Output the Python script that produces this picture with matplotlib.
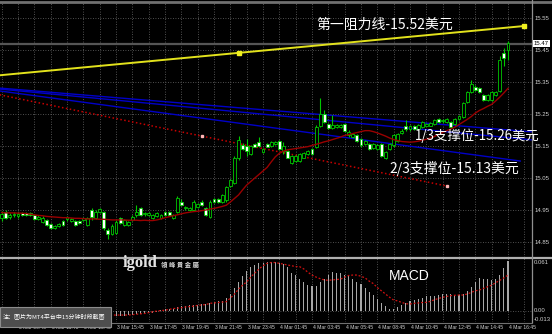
import matplotlib

matplotlib.use("Agg")
import matplotlib.pyplot as plt
from matplotlib.lines import Line2D
from matplotlib.patches import Rectangle
import numpy as np

plt.rcParams["font.family"] = ["Noto Sans CJK SC", "DejaVu Sans"]

# XAG/USD 15-minute candles, 3 Mar 08:45 -> 4 Mar 16:45
opens = [14.925, 14.944, 14.928, 14.934, 14.931, 14.941, 14.941, 14.941, 14.934, 14.923,
         14.913, 14.919, 14.906, 14.895, 14.900, 14.916, 14.922, 14.916, 14.916, 14.916,
         14.919, 14.903, 14.950, 14.925, 14.944, 14.944, 14.888, 14.875, 14.878, 14.925,
         14.903, 14.903, 14.919, 14.934, 14.956, 14.938, 14.934, 14.925, 14.931, 14.925,
         14.944, 14.944, 14.925, 14.944, 14.975, 14.956, 14.950, 14.950, 14.959, 14.975,
         14.956, 14.928, 14.984, 14.984, 14.975, 14.981, 15.025, 15.034, 15.113, 15.153,
         15.150, 15.125, 15.156, 15.161, 15.131, 15.156, 15.150, 15.156, 15.166, 15.134,
         15.134, 15.098, 15.103, 15.103, 15.114, 15.125, 15.141, 15.147, 15.213, 15.250,
         15.219, 15.206, 15.208, 15.209, 15.219, 15.183, 15.178, 15.183, 15.172, 15.156,
         15.156, 15.145, 15.141, 15.156, 15.111, 15.141, 15.152, 15.167, 15.192, 15.214,
         15.202, 15.214, 15.203, 15.209, 15.214, 15.214, 15.219, 15.234, 15.227, 15.225,
         15.225, 15.219, 15.234, 15.241, 15.288, 15.319, 15.334, 15.330, 15.309, 15.294,
         15.294, 15.309, 15.322, 15.441, 15.450]
highs = [14.947, 14.950, 14.941, 14.944, 14.944, 14.944, 14.944, 14.944, 14.938, 14.934,
         14.931, 14.922, 14.909, 14.903, 14.909, 14.919, 14.931, 14.925, 14.919, 14.919,
         14.928, 14.928, 14.956, 14.950, 14.956, 14.947, 14.894, 14.906, 14.919, 14.928,
         14.922, 14.916, 14.934, 14.966, 14.959, 14.944, 14.944, 14.938, 14.944, 14.938,
         14.947, 14.947, 14.938, 14.994, 14.984, 14.963, 14.959, 14.981, 14.972, 14.981,
         14.959, 14.981, 14.988, 14.988, 15.000, 15.025, 15.047, 15.119, 15.181, 15.159,
         15.172, 15.153, 15.159, 15.178, 15.144, 15.159, 15.166, 15.166, 15.169, 15.163,
         15.138, 15.122, 15.122, 15.128, 15.131, 15.138, 15.144, 15.216, 15.300, 15.263,
         15.222, 15.247, 15.219, 15.219, 15.222, 15.200, 15.191, 15.186, 15.175, 15.170,
         15.159, 15.159, 15.156, 15.159, 15.134, 15.159, 15.186, 15.191, 15.202, 15.231,
         15.217, 15.217, 15.219, 15.228, 15.222, 15.225, 15.233, 15.238, 15.233, 15.238,
         15.228, 15.238, 15.248, 15.286, 15.322, 15.356, 15.341, 15.333, 15.313, 15.313,
         15.322, 15.322, 15.431, 15.456, 15.478]
lows = [14.916, 14.922, 14.922, 14.928, 14.925, 14.931, 14.931, 14.931, 14.919, 14.919,
        14.909, 14.900, 14.891, 14.891, 14.897, 14.900, 14.916, 14.913, 14.900, 14.906,
        14.916, 14.900, 14.919, 14.922, 14.941, 14.888, 14.859, 14.872, 14.875, 14.906,
        14.900, 14.900, 14.916, 14.928, 14.931, 14.931, 14.931, 14.922, 14.928, 14.922,
        14.931, 14.931, 14.922, 14.941, 14.963, 14.950, 14.947, 14.947, 14.956, 14.963,
        14.931, 14.925, 14.972, 14.972, 14.972, 14.975, 15.022, 15.031, 15.106, 15.138,
        15.119, 15.122, 15.147, 15.147, 15.128, 15.147, 15.147, 15.153, 15.138, 15.125,
        15.111, 15.095, 15.100, 15.100, 15.111, 15.122, 15.122, 15.144, 15.209, 15.222,
        15.203, 15.203, 15.205, 15.206, 15.195, 15.178, 15.175, 15.164, 15.148, 15.153,
        15.138, 15.142, 15.138, 15.116, 15.108, 15.138, 15.148, 15.164, 15.189, 15.198,
        15.198, 15.200, 15.200, 15.206, 15.211, 15.211, 15.216, 15.222, 15.223, 15.222,
        15.206, 15.216, 15.231, 15.238, 15.284, 15.316, 15.322, 15.316, 15.291, 15.291,
        15.291, 15.306, 15.319, 15.400, 15.419]
closes = [14.938, 14.925, 14.934, 14.938, 14.938, 14.934, 14.934, 14.934, 14.922, 14.928,
          14.925, 14.903, 14.894, 14.900, 14.906, 14.903, 14.928, 14.922, 14.903, 14.909,
          14.925, 14.925, 14.928, 14.944, 14.953, 14.894, 14.875, 14.900, 14.913, 14.909,
          14.919, 14.913, 14.928, 14.944, 14.934, 14.941, 14.941, 14.934, 14.941, 14.934,
          14.934, 14.934, 14.934, 14.988, 14.966, 14.959, 14.956, 14.975, 14.969, 14.966,
          14.934, 14.975, 14.975, 14.975, 14.997, 15.022, 15.044, 15.113, 15.169, 15.141,
          15.134, 15.150, 15.148, 15.150, 15.141, 15.148, 15.161, 15.163, 15.141, 15.150,
          15.114, 15.119, 15.119, 15.125, 15.128, 15.134, 15.125, 15.209, 15.250, 15.225,
          15.206, 15.216, 15.216, 15.216, 15.198, 15.195, 15.188, 15.167, 15.152, 15.167,
          15.141, 15.156, 15.153, 15.119, 15.131, 15.156, 15.183, 15.188, 15.198, 15.202,
          15.214, 15.203, 15.216, 15.225, 15.219, 15.222, 15.230, 15.225, 15.230, 15.234,
          15.209, 15.234, 15.245, 15.283, 15.319, 15.344, 15.325, 15.319, 15.294, 15.309,
          15.319, 15.319, 15.419, 15.425, 15.472]
moving_avg = [14.942, 14.941, 14.941, 14.941, 14.940, 14.940, 14.939, 14.937, 14.935, 14.933,
              14.932, 14.930, 14.929, 14.928, 14.927, 14.926, 14.926, 14.925, 14.924, 14.924,
              14.923, 14.922, 14.922, 14.922, 14.921, 14.921, 14.920, 14.919, 14.919, 14.919,
              14.919, 14.918, 14.918, 14.918, 14.917, 14.918, 14.917, 14.917, 14.919, 14.922,
              14.926, 14.929, 14.932, 14.935, 14.938, 14.941, 14.943, 14.945, 14.946, 14.948,
              14.950, 14.953, 14.955, 14.958, 14.961, 14.965, 14.975, 14.986, 14.997, 15.013,
              15.028, 15.039, 15.050, 15.061, 15.072, 15.083, 15.100, 15.116, 15.127, 15.134,
              15.138, 15.140, 15.142, 15.144, 15.146, 15.148, 15.152, 15.155, 15.159, 15.163,
              15.166, 15.170, 15.174, 15.178, 15.183, 15.186, 15.189, 15.192, 15.195, 15.198,
              15.198, 15.195, 15.191, 15.186, 15.181, 15.175, 15.170, 15.167, 15.164, 15.163,
              15.162, 15.163, 15.165, 15.168, 15.171, 15.175, 15.180, 15.186, 15.192, 15.198,
              15.203, 15.209, 15.217, 15.225, 15.233, 15.242, 15.253, 15.261, 15.267, 15.274,
              15.280, 15.291, 15.303, 15.316, 15.330]
macd = [-0.001, -0.001, -0.001, -0.001, -0.001, -0.001, -0.001, -0.001, -0.002, -0.002,
        -0.002, -0.003, -0.004, -0.004, -0.005, -0.005, -0.005, -0.005, -0.005, -0.005,
        -0.005, -0.005, -0.004, -0.004, -0.003, -0.004, -0.006, -0.006, -0.006, -0.006,
        -0.006, -0.005, -0.005, -0.004, -0.004, -0.003, -0.003, -0.002, -0.001, 0.001,
        0.002, 0.003, 0.003, 0.005, 0.006, 0.006, 0.007, 0.008, 0.008, 0.009,
        0.009, 0.010, 0.011, 0.012, 0.013, 0.016, 0.021, 0.028, 0.036, 0.043,
        0.049, 0.054, 0.057, 0.059, 0.060, 0.061, 0.061, 0.061, 0.060, 0.058,
        0.054, 0.047, 0.045, 0.039, 0.036, 0.032, 0.031, 0.031, 0.036, 0.040,
        0.045, 0.048, 0.047, 0.047, 0.045, 0.044, 0.040, 0.036, 0.033, 0.028,
        0.024, 0.020, 0.015, 0.010, 0.006, 0.003, 0.003, 0.005, 0.007, 0.010,
        0.012, 0.014, 0.015, 0.016, 0.018, 0.019, 0.019, 0.020, 0.021, 0.021,
        0.021, 0.020, 0.020, 0.021, 0.025, 0.030, 0.036, 0.041, 0.040, 0.039,
        0.038, 0.040, 0.045, 0.053, 0.062]
signal = [-0.001, -0.001, -0.001, -0.001, -0.001, -0.001, -0.001, -0.001, -0.001, -0.001,
          -0.002, -0.002, -0.002, -0.002, -0.003, -0.003, -0.003, -0.004, -0.004, -0.004,
          -0.005, -0.005, -0.005, -0.005, -0.005, -0.005, -0.005, -0.005, -0.005, -0.005,
          -0.005, -0.005, -0.0045, -0.004, -0.0035, -0.003, -0.002, -0.001, 0.000, 0.0005,
          0.001, 0.002, 0.003, 0.0035, 0.004, 0.005, 0.0055, 0.006, 0.007, 0.0075,
          0.008, 0.0095, 0.010, 0.0105, 0.011, 0.0115, 0.016, 0.021, 0.027, 0.032,
          0.036, 0.042, 0.047, 0.052, 0.056, 0.059, 0.060, 0.060, 0.059, 0.058,
          0.057, 0.056, 0.055, 0.0548, 0.052, 0.048, 0.0445, 0.042, 0.040, 0.0385,
          0.038, 0.0385, 0.039, 0.0395, 0.042, 0.044, 0.0445, 0.0445, 0.043, 0.041,
          0.037, 0.034, 0.029, 0.025, 0.021, 0.017, 0.0135, 0.0125, 0.0105, 0.009,
          0.0087, 0.0095, 0.010, 0.0105, 0.0107, 0.012, 0.014, 0.0155, 0.017, 0.018,
          0.019, 0.0195, 0.0198, 0.0198, 0.021, 0.023, 0.025, 0.026, 0.028, 0.030,
          0.032, 0.035, 0.038, 0.041, 0.0445]

# drawn objects: trend lines as (bar, price) anchor points
resist_bars = [-0.5, 58, 128]
resist_prices = [15.371, 15.441, 15.525]
support_dots_bars = [-0.5, 49, 109]
support_dots_prices = [15.310, 15.181, 15.025]
channel_bars = [[-0.5, 130], [-0.5, 130], [-0.5, 127]]
channel_prices = [[15.331, 15.194], [15.328, 15.169], [15.322, 15.103]]
last_price = 15.47

price_ticks = [15.55, 15.45, 15.35, 15.25, 15.15, 15.05, 14.95, 14.85]
macd_ticks = ["0.061", "0.00", "-0.013"]
macd_tick_px = [262, 311, 319.5]
tick_bars = [4, 12, 20, 28, 36, 44, 52, 60, 68, 76, 84, 92, 100, 108, 116, 124]
tick_labels = ["3 Mar 09:45", "3 Mar 11:45", "3 Mar 13:45", "3 Mar 15:45",
               "3 Mar 17:45", "3 Mar 19:45", "3 Mar 21:45", "3 Mar 23:45",
               "4 Mar 01:45", "4 Mar 03:45", "4 Mar 05:45", "4 Mar 08:45",
               "4 Mar 10:45", "4 Mar 12:45", "4 Mar 14:45", "4 Mar 16:45"]

W, H = 552, 334
GREEN = "#00c800"
GRID = "#6a6a6a"
AXIS_TXT = "#d0d0d0"


def fx(px):
    return px / W


def fy(py):
    return 1 - py / H


fig = plt.figure(figsize=(W / 100, H / 100), dpi=100, facecolor="black")
ax = fig.add_axes([0, fy(257), 532 / W, (257 - 3) / H], facecolor="black")
ax2 = fig.add_axes([0, fy(322), 532 / W, (322 - 258) / H], facecolor="black")

x = np.arange(len(closes))
xlim = (-1.7 / 4.083, (532 - 1.7) / 4.083)
for a in (ax, ax2):
    a.set_xlim(*xlim)
    a.set_xticks([])
    a.set_yticks([])
    for s in a.spines.values():
        s.set_visible(False)
    for b in range(0, 132, 4):
        a.axvline(b, color=GRID, lw=0.6, ls=(0, (1, 2)), zorder=0)

ax.set_ylim(15.55 - 239 / 320, 15.55 + 15 / 320)
ax2.set_ylim(-0.0136, 0.0656)
for p in price_ticks:
    ax.axhline(p, color=GRID, lw=0.6, ls=(0, (1, 2)), zorder=0)
ax2.axhline(0, color=GRID, lw=0.6, ls=(0, (1, 2)), zorder=0)

# current price line
ax.axhline(last_price, color="#555555", lw=1.6, zorder=1)

# drawn objects
for bx, by in zip(channel_bars, channel_prices):
    ax.plot(bx, by, color="#0000c8", lw=1.0, zorder=2)
ax.plot(support_dots_bars, support_dots_prices, color="#c80000", lw=1.1,
        ls=(0, (1, 1.6)), zorder=2)
ax.plot(support_dots_bars[1:], support_dots_prices[1:], ls="none", marker="s",
        ms=1.8, color="#ffb4b4", zorder=3)
ax.plot(resist_bars, resist_prices, color="#e2e21c", lw=1.4, zorder=2)
ax.plot(resist_bars[1:], resist_prices[1:], ls="none", marker="s", ms=2.4,
        color="#f0f020", zorder=3)

# candles
o, h, l, c = (np.array(v) for v in (opens, highs, lows, closes))
up = c >= o
ax.vlines(x, l, h, color=GREEN, lw=0.8, zorder=4)
ax.bar(x, np.maximum(np.abs(c - o), 0.0012), bottom=np.minimum(o, c), width=0.7,
       color=np.where(up, "black", "white"), edgecolor=GREEN, linewidth=0.6, zorder=5)
ax.plot(x, moving_avg, color="#9a0000", lw=1.0, zorder=6)

# MACD
ax2.bar(x, macd, width=0.25, color="#a8a8a8", zorder=2)
ax2.plot(x, signal, color="#d01010", lw=0.9, ls=(0, (1.5, 1.5)), zorder=3)

# frame lines
fig.add_artist(Line2D([0, 1], [fy(1.5)] * 2, color="#707070", lw=2))
fig.add_artist(Line2D([0, 1], [fy(257.5)] * 2, color="#b0b0b0", lw=1.6))
fig.add_artist(Line2D([fx(532)] * 2, [fy(0), fy(322)], color="#909090", lw=0.9))
fig.add_artist(Line2D([0, fx(532)], [fy(322.5)] * 2, color="#707070", lw=0.8))

# right axis labels
lab = dict(family="Liberation Sans", fontsize=4.3, color=AXIS_TXT, va="center")
for p in price_ticks:
    py = 18 + (15.55 - p) * 320
    fig.text(fx(535), fy(py), f"{p:.2f}", **lab)
for t, py in zip(macd_ticks, macd_tick_px):
    fig.text(fx(534), fy(py), t, **lab)
fig.text(fx(534), fy(43.5), f"{last_price:.2f}", family="Liberation Sans",
         fontsize=4.3, color="black", va="center",
         bbox=dict(facecolor="white", edgecolor="none", pad=0.6))

# time axis labels
for b, t in zip(tick_bars, tick_labels):
    px = 1.7 + 4.083 * b
    fig.text(fx(px + 1), fy(327.5), t, family="Liberation Sans", fontsize=3.6,
             color=AXIS_TXT, va="center")

# annotations
fig.text(fx(316), fy(25), "第一阻力线-15.52美元", fontsize=10, color="white", va="center")
fig.text(fx(415), fy(135.5), "1/3支撑位-15.26美元", fontsize=9.6, color="white", va="center")
fig.text(fx(389), fy(168), "2/3支撑位-15.13美元", fontsize=10, color="white", va="center")
fig.text(fx(389), fy(276), "MACD", family="Liberation Sans", fontsize=10,
         color="white", va="center")
fig.text(fx(123), fy(263), "igold", family="Liberation Serif", weight="bold",
         fontsize=12, color="#e4e4e4", va="center")
fig.text(fx(161), fy(264), "領 峰 貴 金 屬", family=["Noto Sans CJK TC"],
         weight="bold", fontsize=4.6, color="#d8d8d8", va="center")

fig.add_artist(Rectangle((0, fy(327)), 111 / W, 20 / H, transform=fig.transFigure,
                         facecolor="#4e4e4e", edgecolor="#8c8c8c", lw=0.8, zorder=10))
fig.text(fx(3), fy(317), "注：图片为MT4平台中15分钟时段截图", fontsize=4.3,
         color="white", va="center", zorder=11)

fig.savefig("out.png", dpi=100, facecolor="black")
